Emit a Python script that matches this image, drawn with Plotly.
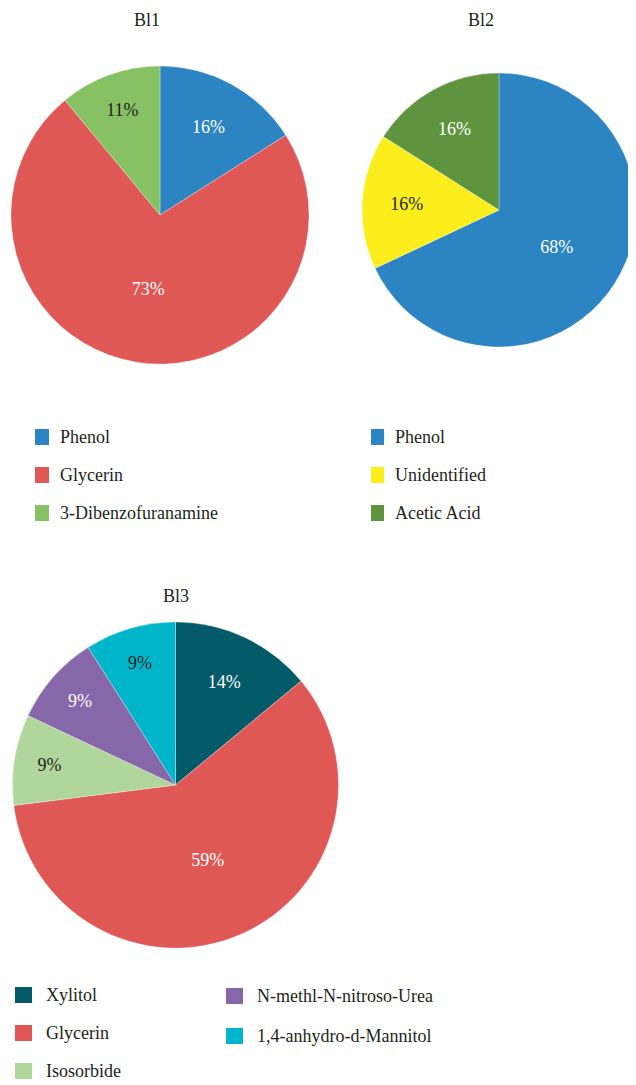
import plotly.graph_objects as go

# page offset (default body margin of the html page)
OFF = 8
W, H = 636 - OFF, 1085 - OFF

# ---- data ----
bl1_labels = ["Phenol", "Glycerin", "3-Dibenzofuranamine"]
bl1_values = [16, 73, 11]
bl1_colors = ["#2C84C2", "#E05855", "#86C264"]
bl1_text_colors = ["#FFFFFF", "#FFFFFF", "#231F20"]

bl2_labels = ["Phenol", "Unidentified", "Acetic Acid"]
bl2_values = [68, 16, 16]
bl2_colors = ["#2C84C2", "#FCEE1C", "#5F943F"]
bl2_text_colors = ["#FFFFFF", "#231F20", "#FFFFFF"]

bl3_labels = ["Xylitol", "Glycerin", "Isosorbide", "N-methl-N-nitroso-Urea", "1,4-anhydro-d-Mannitol"]
bl3_values = [14, 59, 9, 9, 9]
bl3_colors = ["#035A68", "#E05855", "#B1D69B", "#8567AA", "#00B5CA"]
bl3_text_colors = ["#FFFFFF", "#FFFFFF", "#231F20", "#FFFFFF", "#231F20"]

titles = ["Bl1", "Bl2", "Bl3"]

FONT = "Liberation Serif"
DARK = "#231F20"


def px_x(x):
    return (x - OFF) / W


def px_y(y):
    return 1 - (y - OFF) / H


def dom(cx, cy, r):
    return dict(x=[max(0, px_x(cx - r)), min(1, px_x(cx + r))],
                y=[px_y(cy + r), px_y(cy - r)])


fig = go.Figure()

pies = [
    (bl1_labels, bl1_values, bl1_colors, bl1_text_colors, dom(160, 215, 149)),
    (bl2_labels, bl2_values, bl2_colors, bl2_text_colors, dict(x=[px_x(362), 1.0], y=[px_y(347), px_y(73)])),
    (bl3_labels, bl3_values, bl3_colors, bl3_text_colors, dom(175.5, 785, 163)),
]

for labels, values, colors, tcols, d in pies:
    fig.add_trace(go.Pie(
        labels=labels, values=values, sort=False, direction="clockwise", rotation=0,
        marker=dict(colors=colors, line=dict(color="rgba(255,255,255,0.6)", width=0.5)),
        textinfo="percent", texttemplate="%{percent:.0%}", textposition="inside",
        insidetextorientation="horizontal",
        textfont=dict(family=FONT, size=18, color=tcols),
        domain=d, showlegend=False, hoverinfo="label+percent",
    ))

annotations = []
shapes = []

# titles
for t, (x, y) in zip(titles, [(147, 20), (481, 20), (176, 596)]):
    annotations.append(dict(text=t, x=px_x(x), y=px_y(y), xref="paper", yref="paper",
                            showarrow=False, xanchor="center", yanchor="middle",
                            font=dict(family=FONT, size=18, color=DARK)))


def legend(labels, colors, sx, tx, ys, sw=14, sh=16):
    for lab, col, y in zip(labels, colors, ys):
        shapes.append(dict(type="rect", xref="paper", yref="paper",
                           x0=px_x(sx), x1=px_x(sx + sw), y0=px_y(y + sh / 2), y1=px_y(y - sh / 2),
                           fillcolor=col, line=dict(width=0)))
        annotations.append(dict(text=lab, x=px_x(tx), y=px_y(y), xref="paper", yref="paper",
                                showarrow=False, xanchor="left", yanchor="middle",
                                font=dict(family=FONT, size=18, color=DARK)))


legend(bl1_labels, bl1_colors, 35, 58, [437, 475, 513])
legend(bl2_labels, bl2_colors, 371, 393, [437, 475, 513], sw=13)
legend(bl3_labels[:3], bl3_colors[:3], 15, 44, [995, 1033, 1071], sw=17)
legend(bl3_labels[3:], bl3_colors[3:], 226, 255, [996, 1036], sw=17)

fig.update_layout(
    width=W, height=H, margin=dict(l=0, r=0, t=0, b=0),
    paper_bgcolor="white", plot_bgcolor="white",
    font=dict(family=FONT, size=18, color=DARK),
    annotations=annotations, shapes=shapes,
)

fig.write_html("out.html")
